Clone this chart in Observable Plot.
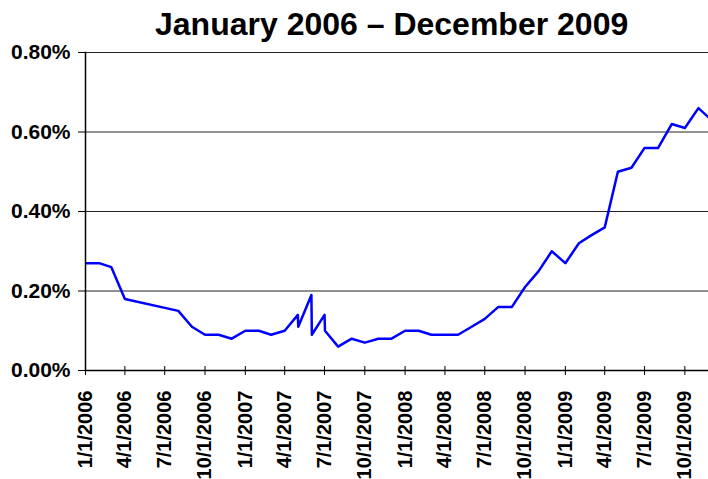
<!DOCTYPE html>
<html><head><meta charset="utf-8">
<script src="https://cdn.jsdelivr.net/npm/d3@7"></script>
<script src="https://cdn.jsdelivr.net/npm/@observablehq/plot@0.6"></script>
<style>
body{margin:0;background:#fff;}
#wrap{position:relative;width:708px;height:479px;overflow:hidden;}
#title{position:absolute;left:155px;top:8px;font:bold 32px "Liberation Sans",Arial,sans-serif;line-height:1;white-space:nowrap;color:#000;z-index:2;}
</style></head><body>
<div id="wrap"><div id="title">January 2006 – December 2009</div></div>
<script>
const dates = [
 "2006-01-01","2006-02-01","2006-03-01","2006-04-01","2006-08-01","2006-09-01","2006-10-01","2006-11-01","2006-12-01",
 "2007-01-01","2007-02-01","2007-03-01","2007-04-01","2007-05-01","2007-05-02","2007-06-01","2007-06-02","2007-07-01","2007-07-02",
 "2007-08-01","2007-09-01","2007-10-01","2007-11-01","2007-12-01",
 "2008-01-01","2008-02-01","2008-03-01","2008-04-01","2008-05-01","2008-06-01","2008-07-01","2008-08-01","2008-09-01",
 "2008-10-01","2008-11-01","2008-12-01",
 "2009-01-01","2009-02-01","2009-03-01","2009-04-01","2009-05-01","2009-06-01","2009-07-01","2009-08-01","2009-09-01",
 "2009-10-01","2009-11-01","2009-12-01"
];
const values = [
 0.27,0.27,0.26,0.18,0.15,0.11,0.09,0.09,0.08,
 0.10,0.10,0.09,0.10,0.14,0.11,0.19,0.09,0.14,0.10,
 0.06,0.08,0.07,0.08,0.08,
 0.10,0.10,0.09,0.09,0.09,0.11,0.13,0.16,0.16,
 0.21,0.25,0.30,
 0.27,0.32,0.34,0.36,0.50,0.51,0.56,0.56,0.62,
 0.61,0.66,0.63
];
const yTicks = [0, 0.2, 0.4, 0.6, 0.8];
const xTickLabels = ["1/1/2006","4/1/2006","7/1/2006","10/1/2006","1/1/2007","4/1/2007","7/1/2007","10/1/2007",
 "1/1/2008","4/1/2008","7/1/2008","10/1/2008","1/1/2009","4/1/2009","7/1/2009","10/1/2009"];
const xDomain = ["2006-01-01","2009-11-24"];

const toUTC = s => new Date(s + "T00:00:00Z");
const data = dates.map((d, i) => ({date: toUTC(d), value: values[i]}));
const xTicks = xTickLabels.map(s => { const [m, d, y] = s.split("/").map(Number); return new Date(Date.UTC(y, m - 1, d)); });
const labelOf = new Map(xTicks.map((d, i) => [+d, xTickLabels[i]]));

const plot = Plot.plot({
  width: 708, height: 479,
  marginTop: 52, marginBottom: 109, marginLeft: 85, marginRight: 0,
  style: {fontFamily: '"Liberation Sans", Arial, sans-serif', fontWeight: "bold", color: "#000", background: "#fff", overflow: "visible"},
  x: {type: "utc", domain: xDomain.map(toUTC)},
  y: {domain: [0, 0.8]},
  marks: [
    Plot.ruleY(yTicks.slice(1), {stroke: "#222", strokeWidth: 1}),
    Plot.line(data, {x: "date", y: "value", stroke: "#0000ff", strokeWidth: 2.5, clip: true}),
    Plot.frame({anchor: "left", stroke: "#000", strokeWidth: 1.5}),
    Plot.frame({anchor: "bottom", stroke: "#000", strokeWidth: 1.5}),
    Plot.ruleX(xTicks, {y1: 0, y2: 0.01, stroke: "#000", strokeWidth: 1}),
    Plot.axisY({ticks: yTicks, tickFormat: d => d.toFixed(2) + "%", tickSize: 7, tickPadding: 8, fontSize: 21, label: null}),
    Plot.axisX({ticks: xTicks, tickFormat: d => labelOf.get(+d), tickRotate: -90, tickSize: 5, tickPadding: 15, fontSize: 20, label: null})
  ]
});
document.getElementById("wrap").appendChild(plot);
</script>
</body></html>
